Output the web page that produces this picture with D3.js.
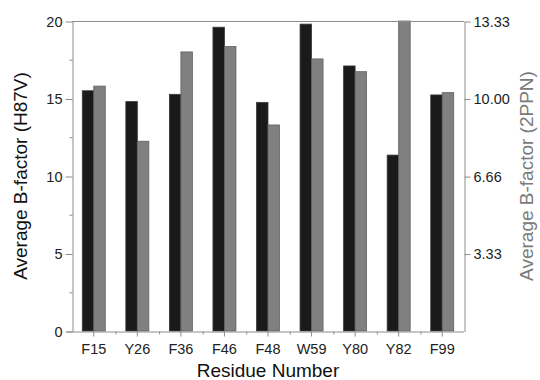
<!DOCTYPE html>
<html>
<head>
<meta charset="utf-8">
<script src="https://cdn.jsdelivr.net/npm/d3@7"></script>
<style>
  html, body { margin: 0; padding: 0; background: #fff; }
  svg { display: block; font-family: "Liberation Sans", Arial, sans-serif; }
</style>
</head>
<body>
<svg id="chart" width="540" height="380"></svg>
<script>
// Residues and their average B-factors
const residues = ["F15", "Y26", "F36", "F46", "F48", "W59", "Y80", "Y82", "F99"];
const bH87V = [15.5, 14.8, 15.27, 19.6, 14.75, 19.8, 17.1, 11.35, 15.23];   // left axis
const b2PPN = [10.53, 8.16, 12.0, 12.23, 8.86, 11.7, 11.15, 13.33, 10.25]; // right axis

const leftTicks = [0, 5, 10, 15, 20];
const leftMinor = [2.5, 7.5, 12.5, 17.5];
const rightTicks = [3.33, 6.66, 10.00, 13.33];

const svg = d3.select("#chart");
const L = 72, R = 464, T = 21, B = 331;
const axisColor = "#8c8c8c";

const x0 = d3.scaleBand().domain(residues).range([L, R]).paddingInner(0).paddingOuter(0);
const yL = d3.scaleLinear().domain([0, 20]).range([B, T]);
const yR = d3.scaleLinear().domain([0, 13.33]).range([B, T]);

const barW = 11.5;
const g = svg.append("g");

// H87V bars (dark), left of each residue centre
g.selectAll("rect.h87v").data(residues).join("rect")
  .attr("class", "h87v")
  .attr("x", (d) => x0(d) + x0.bandwidth() / 2 - barW)
  .attr("y", (d, i) => yL(bH87V[i]))
  .attr("width", barW)
  .attr("height", (d, i) => B - yL(bH87V[i]))
  .attr("fill", "#1a1a1a")
  .attr("stroke", "#3a3a3a")
  .attr("stroke-width", 0.8);

// 2PPN bars (grey), right of each residue centre
g.selectAll("rect.ppn").data(residues).join("rect")
  .attr("class", "ppn")
  .attr("x", (d) => x0(d) + x0.bandwidth() / 2)
  .attr("y", (d, i) => yR(b2PPN[i]))
  .attr("width", barW)
  .attr("height", (d, i) => B - yR(b2PPN[i]))
  .attr("fill", "#808080")
  .attr("stroke", "#606060")
  .attr("stroke-width", 0.8);

function styleAxis(sel) {
  sel.selectAll("path, line").attr("stroke", axisColor).attr("stroke-width", 1);
  sel.selectAll("text").attr("fill", "#222").style("font-size", "14.5px")
     .style("font-family", '"Liberation Sans", Arial, sans-serif');
}

// top frame line
svg.append("line").attr("x1", L).attr("x2", R).attr("y1", T + 0.5).attr("y2", T + 0.5)
  .attr("stroke", axisColor);

// left axis
const axL = svg.append("g").attr("transform", `translate(${L + 0.5},0.5)`)
  .call(d3.axisLeft(yL).tickValues(leftTicks).tickSize(7).tickSizeOuter(0).tickPadding(3));
styleAxis(axL);
svg.append("g").attr("transform", `translate(${L + 0.5},0.5)`)
  .selectAll("line").data(leftMinor).join("line")
  .attr("x1", -3).attr("x2", 0).attr("y1", (d) => yL(d)).attr("y2", (d) => yL(d))
  .attr("stroke", axisColor);

// right axis
const axR = svg.append("g").attr("transform", `translate(${R + 0.5},0.5)`)
  .call(d3.axisRight(yR).tickValues(rightTicks).tickFormat(d3.format(".2f"))
    .tickSize(6).tickSizeOuter(0).tickPadding(3));
styleAxis(axR);

// bottom axis
const axB = svg.append("g").attr("transform", `translate(0,${B + 0.5})`)
  .call(d3.axisBottom(x0).tickSize(5).tickSizeOuter(0).tickPadding(7));
styleAxis(axB);
axB.select(".domain").attr("d", `M${L - 5},0.5H${R}`);
svg.append("g").attr("transform", `translate(0,${B + 0.5})`)
  .selectAll("line").data(residues.slice(1)).join("line")
  .attr("x1", (d) => x0(d) + 0.5).attr("x2", (d) => x0(d) + 0.5)
  .attr("y1", 0).attr("y2", 3)
  .attr("stroke", axisColor);

// axis titles
svg.append("text").attr("x", (L + R) / 2).attr("y", 377)
  .attr("text-anchor", "middle").attr("fill", "#111")
  .style("font-size", "19px").text("Residue Number");

svg.append("text").attr("transform", `translate(27,${(T + B) / 2}) rotate(-90)`)
  .attr("text-anchor", "middle").attr("fill", "#111")
  .style("font-size", "19px").text("Average B-factor (H87V)");

svg.append("text").attr("transform", `translate(533,${(T + B) / 2}) rotate(-90)`)
  .attr("text-anchor", "middle").attr("fill", "#7a7a7a")
  .style("font-size", "19px").text("Average B-factor (2PPN)");
</script>
</body>
</html>
